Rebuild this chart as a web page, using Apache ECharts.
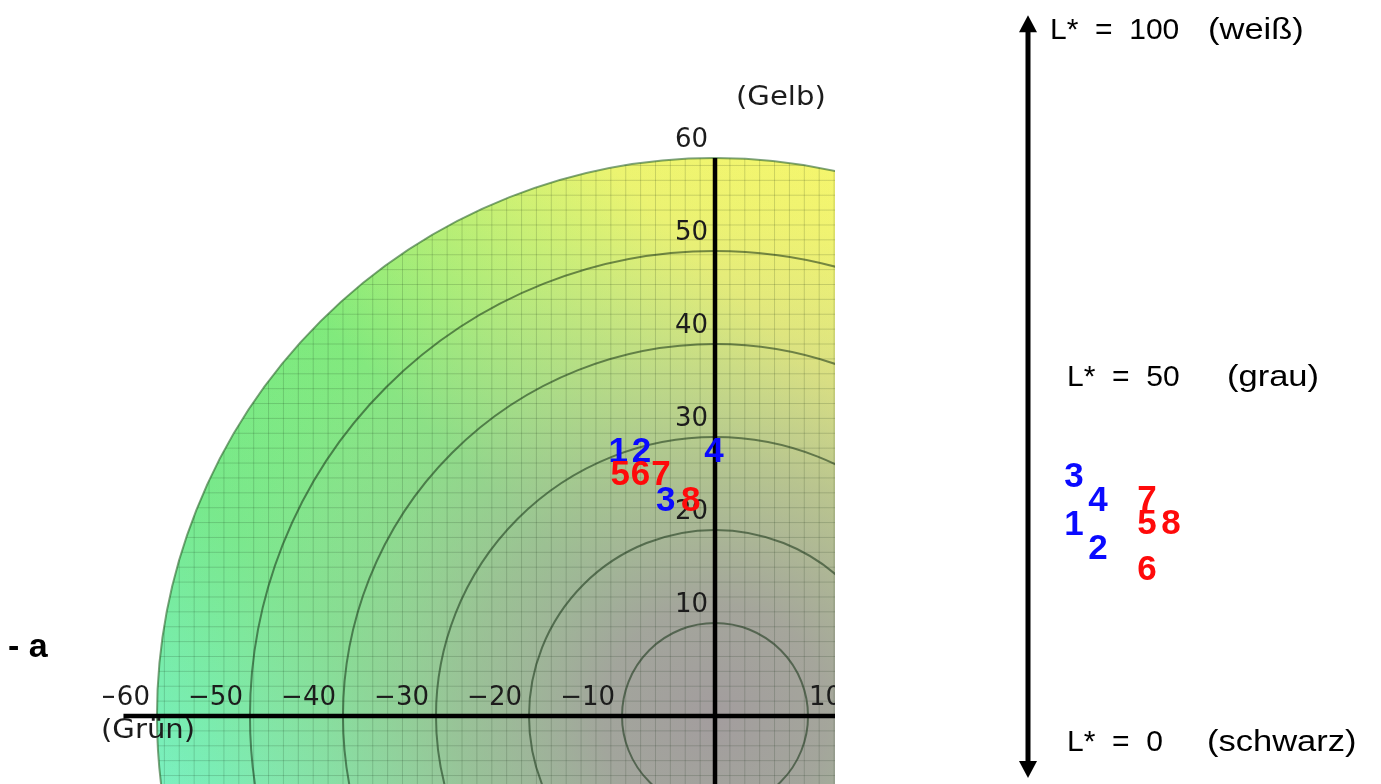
<!DOCTYPE html>
<html><head><meta charset="utf-8">
<script src="https://cdn.jsdelivr.net/npm/echarts@6/dist/echarts.min.js"></script>
<style>html,body{margin:0;padding:0;background:#fff}#c{width:1381px;height:784px}</style>
</head><body><div id="c"></div>
<script>
// ---------------- data ----------------
const sampleIds   = ['1', '2', '3', '4', '5', '6', '7', '8'];
const sampleGroup = ['blue', 'blue', 'blue', 'blue', 'red', 'red', 'red', 'red'];
const sampleA     = [-10.4, -7.9, -5.3, -0.1, -10.2, -8.0, -5.8, -2.6];   // a*
const sampleB     = [28.4, 28.4, 23.1, 28.4, 25.9, 25.9, 25.9, 23.1];     // b*
const sampleL     = [30.5, 27.1, 37.3, 33.9, 30.6, 24.2, 34.0, 30.6];     // L*
const xTickLabels = [-60, -50, -40, -30, -20, -10, 10];
const yTickLabels = [10, 20, 30, 40, 50, 60];
const chromaRings = [10, 20, 30, 40, 50, 60];
const lightnessValues = [100, 50, 0];
const lightnessNames  = ['(weiß)', '(grau)', '(schwarz)'];

// ---------------- layout / style ----------------
const ringMax = 60;
const gridStep = 1.6;
const colorOf = { blue: '#0a0aff', red: '#ff0a0a' };
const rightColumnX = [74, 98, 147, 171];
const sampleColumn = [0, 1, 0, 1, 2, 2, 2, 3];
const lightLabelX = [50, 67, 67];
const lightNameX  = [208, 227, 207];
const lightLabelDy = [0, -9, 0];
const arrowX = 28, arrowTopL = 102.2, arrowBottomL = -5.0;
const digitFont = 'bold 35px "Liberation Sans", Arial, sans-serif';
const tickFont = '26px "DejaVu Sans", sans-serif';
const lightFont = '30px "Liberation Sans", Arial, sans-serif';

const chart = echarts.init(document.getElementById('c'), null, { renderer: 'canvas', width: 1381, height: 784 });

function renderField(params, api) {
  const o = api.coord([0, 0]);
  const R = api.size([ringMax, 0])[0];
  const p1 = api.coord([20, 60]), p2 = api.coord([-60, -20]);
  const children = [];
  children.push({ type: 'circle', shape: { cx: o[0], cy: o[1], r: R }, style: {
    fill: { type: 'linear', x: p1[0], y: p1[1], x2: p2[0], y2: p2[1], global: true, colorStops: [
      { offset: 0, color: '#f8f66c' }, { offset: 0.2, color: '#ecf470' }, { offset: 0.36, color: '#b4ee76' },
      { offset: 0.5, color: '#80ea7c' }, { offset: 0.7, color: '#78e98c' }, { offset: 0.88, color: '#78eeb6' },
      { offset: 1, color: '#84f3d4' } ] } } });
  children.push({ type: 'circle', shape: { cx: o[0], cy: o[1], r: R }, style: {
    fill: { type: 'radial', x: o[0], y: o[1], r: R, global: true, colorStops: [
      { offset: 0, color: 'rgba(163,157,158,1)' }, { offset: 0.2, color: 'rgba(165,160,158,0.93)' },
      { offset: 0.45, color: 'rgba(172,170,160,0.62)' }, { offset: 0.7, color: 'rgba(182,186,170,0.25)' },
      { offset: 0.9, color: 'rgba(200,200,180,0.04)' }, { offset: 1, color: 'rgba(200,200,180,0)' } ] } } });
  const n = Math.floor(ringMax / gridStep);
  for (let k = -n; k <= n; k++) {
    const v = k * gridStep;
    const h = Math.sqrt(Math.max(0, ringMax * ringMax - v * v));
    if (h <= 0) continue;
    const a1 = api.coord([v, -h]), a2 = api.coord([v, h]);
    children.push({ type: 'line', shape: { x1: a1[0], y1: a1[1], x2: a2[0], y2: a2[1] }, style: { stroke: 'rgba(20,40,20,0.17)', lineWidth: 1 } });
    const b1 = api.coord([-h, v]), b2 = api.coord([h, v]);
    children.push({ type: 'line', shape: { x1: b1[0], y1: b1[1], x2: b2[0], y2: b2[1] }, style: { stroke: 'rgba(20,40,20,0.17)', lineWidth: 1 } });
  }
  chromaRings.forEach(r => {
    children.push({ type: 'circle', shape: { cx: o[0], cy: o[1], r: api.size([r, 0])[0] },
      style: { fill: 'none', stroke: r === ringMax ? 'rgba(40,100,40,0.6)' : 'rgba(20,50,20,0.55)', lineWidth: 2 } });
  });
  return { type: 'group', children };
}

function renderAxes(params, api) {
  const h1 = api.coord([-63.6, 0]), h2 = api.coord([20, 0]);
  const v1 = api.coord([0, ringMax]), v2 = api.coord([0, -10]);
  return { type: 'group', children: [
    { type: 'line', shape: { x1: h1[0], y1: h1[1], x2: h2[0], y2: h2[1] }, style: { stroke: '#000', lineWidth: 4.5 } },
    { type: 'line', shape: { x1: v1[0], y1: v1[1], x2: v2[0], y2: v2[1] }, style: { stroke: '#000', lineWidth: 4.5 } }
  ] };
}

function renderTicks(params, api) {
  const children = [];
  xTickLabels.forEach(v => {
    const p = api.coord([v, 0]);
    const neg = v < 0;
    children.push({ type: 'text', x: neg ? p[0] - 7 : p[0] + 1, y: p[1] - 18,
      style: { text: neg ? '\u2212' + Math.abs(v) : String(v), x: 0, y: 0, align: neg ? 'right' : 'left',
        verticalAlign: 'middle', font: tickFont, fill: '#1c1c1c' } });
  });
  yTickLabels.forEach(v => {
    const p = api.coord([0, v]);
    children.push({ type: 'text', x: p[0] - 7, y: p[1] - 18,
      style: { text: String(v), x: 0, y: 0, align: 'right', verticalAlign: 'middle', font: tickFont, fill: '#1c1c1c' } });
  });
  return { type: 'group', children };
}

function renderSampleLeft(params, api) {
  const i = api.value(2);
  const p = api.coord([api.value(0), api.value(1)]);
  return { type: 'text', x: p[0], y: p[1], style: { text: sampleIds[i], x: 0, y: 0, align: 'center', verticalAlign: 'middle',
    font: digitFont, fill: colorOf[sampleGroup[i]] } };
}

function renderArrow(params, api) {
  const t = api.coord([arrowX, arrowTopL]), b = api.coord([arrowX, arrowBottomL]);
  const x = t[0];
  return { type: 'group', children: [
    { type: 'line', shape: { x1: x, y1: t[1] + 12, x2: x, y2: b[1] - 12 }, style: { stroke: '#000', lineWidth: 5 } },
    { type: 'polygon', shape: { points: [[x, t[1]], [x - 9, t[1] + 17], [x + 9, t[1] + 17]] }, style: { fill: '#000' } },
    { type: 'polygon', shape: { points: [[x, b[1]], [x - 9, b[1] - 17], [x + 9, b[1] - 17]] }, style: { fill: '#000' } }
  ] };
}

function renderLight(params, api) {
  const i = api.value(0);
  const L = lightnessValues[i];
  const p1 = api.coord([lightLabelX[i], L]);
  const p2 = api.coord([lightNameX[i], L]);
  const dy = lightLabelDy[i];
  return { type: 'group', children: [
    { type: 'text', x: p1[0], y: p1[1] + dy, style: { text: 'L*  =  ' + L, x: 0, y: 0, align: 'left', verticalAlign: 'middle', font: lightFont, fill: '#000' } },
    { type: 'text', x: p2[0], y: p2[1] + dy, scaleX: 1.15, style: { text: lightnessNames[i], x: 0, y: 0, align: 'left', verticalAlign: 'middle', font: lightFont, fill: '#000' } }
  ] };
}

function renderSampleRight(params, api) {
  const i = api.value(2);
  const p = api.coord([api.value(0), api.value(1)]);
  return { type: 'text', x: p[0], y: p[1], style: { text: sampleIds[i], x: 0, y: 0, align: 'center', verticalAlign: 'middle',
    font: digitFont, fill: colorOf[sampleGroup[i]] } };
}

const option = {
  animation: false,
  backgroundColor: '#ffffff',
  grid: [
    { left: 103, right: 546, top: 0, bottom: 0 },
    { left: 1000, right: 0, top: 31, bottom: 41.5 }
  ],
  xAxis: [
    { type: 'value', gridIndex: 0, min: -65.8, max: 12.9, show: false },
    { type: 'value', gridIndex: 1, min: 0, max: 381, show: false }
  ],
  yAxis: [
    { type: 'value', gridIndex: 0, min: -7.31, max: 76.99, show: false },
    { type: 'value', gridIndex: 1, min: 0, max: 100, show: false }
  ],
  graphic: [
    { type: 'text', left: 8, top: 631, z: 100, style: { text: '- a', font: 'bold 34px "Liberation Sans", Arial, sans-serif', fill: '#000' } },
    { type: 'text', x: 736, y: 85, scaleX: 1.12, z: 100, style: { text: '(Gelb)', font: '26px "DejaVu Sans", sans-serif', fill: '#1c1c1c' } },
    { type: 'text', x: 101, y: 718, scaleX: 1.12, z: 100, style: { text: '(Grün)', font: '26px "DejaVu Sans", sans-serif', fill: '#1c1c1c' } }
  ],
  series: [
    { type: 'custom', xAxisIndex: 0, yAxisIndex: 0, clip: true, silent: true, renderItem: renderField, data: [[0, 0]], z: 1 },
    { type: 'custom', xAxisIndex: 0, yAxisIndex: 0, clip: true, silent: true, renderItem: renderAxes, data: [[0, 0]], z: 2 },
    { type: 'custom', xAxisIndex: 0, yAxisIndex: 0, clip: true, silent: true, renderItem: renderTicks, data: [[0, 0]], z: 3 },
    { type: 'custom', xAxisIndex: 0, yAxisIndex: 0, silent: true, renderItem: renderSampleLeft,
      data: sampleA.map((a, i) => [a, sampleB[i], i]), z: 4 },
    { type: 'custom', xAxisIndex: 1, yAxisIndex: 1, silent: true, renderItem: renderArrow, data: [[arrowX, 50]], z: 2 },
    { type: 'custom', xAxisIndex: 1, yAxisIndex: 1, silent: true, renderItem: renderLight,
      data: lightnessValues.map((L, i) => [i, L]), encode: { x: 0, y: 1 }, z: 3 },
    { type: 'custom', xAxisIndex: 1, yAxisIndex: 1, silent: true, renderItem: renderSampleRight,
      data: sampleL.map((L, i) => [rightColumnX[sampleColumn[i]], L, i]), z: 4 }
  ]
};
chart.setOption(option);
</script>
</body></html>
